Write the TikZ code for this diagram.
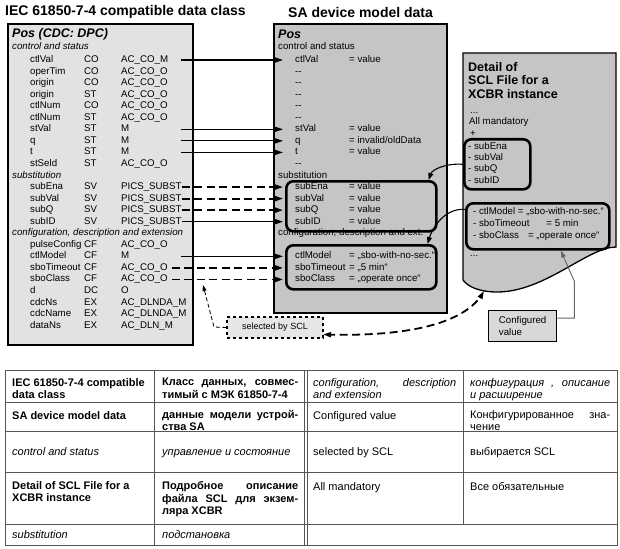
\documentclass[tikz,border=0pt]{standalone}
\usepackage{fontspec}
\setmainfont{Liberation Sans}
\usepackage{tikz}
\usetikzlibrary{
  arrows.meta,
  positioning
}
\definecolor{lboxgray}{RGB}{226,226,226}
\definecolor{mboxgray}{RGB}{197,197,197}
\definecolor{selgray}{RGB}{230,230,230}
\definecolor{cvgray}{RGB}{216,216,216}
\definecolor{cfggray}{RGB}{100,100,100}
\definecolor{tabgray}{RGB}{85,85,85}

\begin{document}
\begin{tikzpicture}[
  x=1pt, y=-1pt,
  panel/.style={draw, line width=1.6pt, anchor=north west, inner sep=0pt},
  grp/.style={draw, line width=2.6pt, rounded corners=7pt, anchor=north west, inner sep=0pt},
  rowtxt/.style={anchor=west, inner sep=0pt, text height=7pt, text depth=2pt, font=\fontsize{9.7}{11}\selectfont},
  sectxt/.style={rowtxt, font=\fontsize{9.7}{11}\selectfont\itshape},
  head/.style={anchor=west, inner sep=0pt, font=\fontsize{14}{16}\selectfont\bfseries},
  postitle/.style={anchor=west, inner sep=0pt, font=\fontsize{12.5}{14}\selectfont\bfseries\itshape},
  arr/.style={-{Triangle[length=8pt,width=5pt]}, line width=1.2pt, shorten >=12pt},
  darr/.style={arr, line width=1.8pt, dash pattern=on 8pt off 4.5pt},
  cell/.style={anchor=north west, inner sep=0pt, align=left, font=\fontsize{11}{12.5}\selectfont, execute at begin node=\rule{0pt}{9pt}},
  tabline/.style={draw=tabgray, line width=0.9pt}
]
  \useasboundingbox (0,0) rectangle (620,548);

  % --- titles ---
  \node[head] (ltitle) at (5,12) {IEC 61850-7-4 compatible data class};
  \node[head] (mtitle) at (288,12) {SA device model data};

  % --- data class (left) ---
  \node[panel, fill=lboxgray, minimum width=185pt, minimum height=321pt] (lbox) at (7,23) {};
  \node[postitle] (lpos) at (12,34) {Pos (CDC: DPC)};
  \node[sectxt] (lsec1) at (12,47) {control and status};
  \node[sectxt] (lsec2) at (12,{48.45+11.55*11}) {substitution};
  \node[sectxt] (lsec3) at (12,{48.45+11.55*16}) {configuration, description and extension};
  \foreach \i/\nm/\fc/\pr in {1/ctlVal/CO/AC\_CO\_M, 2/operTim/CO/AC\_CO\_O, 3/origin/CO/AC\_CO\_O,
      4/origin/ST/AC\_CO\_O, 5/ctlNum/CO/AC\_CO\_O, 6/ctlNum/ST/AC\_CO\_O, 7/stVal/ST/M, 8/q/ST/M,
      9/t/ST/M, 10/stSeld/ST/AC\_CO\_O, 12/subEna/SV/PICS\_SUBST, 13/subVal/SV/PICS\_SUBST,
      14/subQ/SV/PICS\_SUBST, 15/subID/SV/PICS\_SUBST, 17/pulseConfig/CF/AC\_CO\_O, 18/ctlModel/CF/M,
      19/sboTimeout/CF/AC\_CO\_O, 20/sboClass/CF/AC\_CO\_O, 21/d/DC/O, 22/cdcNs/EX/AC\_DLNDA\_M,
      23/cdcName/EX/AC\_DLNDA\_M, 24/dataNs/EX/AC\_DLN\_M} {
    \node[rowtxt] (ln\i) at (30,{48.45+11.55*\i}) {\nm};
    \node[rowtxt] (lf\i) at (84,{48.45+11.55*\i}) {\fc};
    \node[rowtxt] (lp\i) at (121,{48.45+11.55*\i}) {\pr};
  }

  % --- device model data (middle) ---
  \node[panel, fill=mboxgray, minimum width=173pt, minimum height=289pt] (mbox) at (273,23) {};
  \node[postitle] (mpos) at (278,34) {Pos};
  \node[rowtxt] (msec1) at (278,47) {control and status};
  \node[rowtxt] (msec2) at (278,{48.45+11.55*11}) {substitution};
  \node[rowtxt] (msec3) at (278,{48.45+11.55*16}) {configuration, description and ext.};
  \node[grp, minimum width=150pt, minimum height=50pt] (msub) at (285,180) {};
  \node[grp, minimum width=150pt, minimum height=44pt] (mcfg) at (285,244) {};
  \foreach \i/\nm in {1/ctlVal, 2/-{}-, 3/-{}-, 4/-{}-, 5/-{}-, 6/-{}-, 7/stVal, 8/q, 9/t, 10/-{}-,
      12/subEna, 13/subVal, 14/subQ, 15/subID, 18/ctlModel, 19/sboTimeout, 20/sboClass}
    \node[rowtxt] (mn\i) at (295,{48.45+11.55*\i}) {\nm};
  \foreach \i/\vl in {1/{= value}, 7/{= value}, 8/{= invalid/oldData}, 9/{= value}, 12/{= value},
      13/{= value}, 14/{= value}, 15/{= value}, 18/{= „sbo-with-no-sec.“}, 19/{= „5 min“},
      20/{= „operate once“}}
    \node[rowtxt] (mv\i) at (349,{48.45+11.55*\i}) {\vl};

  % mapping arrows
  \foreach \i in {1,7,8,9,18}
    \draw[arr] (181,0 |- lp\i) -- (mn\i);
  \draw[arr] (lp15.east) -- (mn15);
  \foreach \i in {12,13,14}
    \draw[darr] (lp\i.east) -- (mn\i);
  \foreach \i in {19,20}
    \draw[darr, shorten <=4pt] (lp\i.east) -- (mn\i);

  % --- SCL file detail (right) ---
  \draw[line width=1.3pt, fill=mboxgray] (463,53) -- (616,53) -- (616,247)
    .. controls (588,247) and (545,292) .. (497,292)
    .. controls (480,292) and (468,287) .. (463,280) -- cycle;
  \node[anchor=north west, inner sep=0pt, align=left, font=\fontsize{12.5}{13.5}\selectfont\bfseries] (rtitle) at (468,62) {Detail of\\SCL File for a\\XCBR instance};
  \node[rowtxt] (rdots1) at (470,111) {...};
  \node[rowtxt] (rall) at (469,122) {All mandatory};
  \node[rowtxt] (rplus) at (470,134) {+};
  \node[grp, minimum width=66pt, minimum height=50pt] (rsub) at (463,138) {};
  \node[rowtxt] (rs1) at (468,147) {- subEna};
  \node[rowtxt] (rs2) at (468,158) {- subVal};
  \node[rowtxt] (rs3) at (468,169) {- subQ};
  \node[rowtxt] (rs4) at (468,181) {- subID};
  \node[grp, minimum width=143pt, minimum height=46pt] (rcfg) at (465,202) {};
  \node[rowtxt] (rc1) at (473,212) {- ctlModel = „sbo-with-no-sec.“};
  \node[rowtxt] (rc2) at (473,224) {- sboTimeout\hspace{17pt}= 5 min};
  \node[rowtxt] (rc3) at (473,236) {- sboClass\hspace{9pt}= „operate once“};
  \node[rowtxt] (rdots2) at (470,254) {...};

  % SCL -> model
  \draw[-{Triangle[length=7pt,width=5pt]}, line width=1.1pt] (rsub.west)
    .. controls (445,163) and (432,170) .. ([xshift=-9pt]msub.north east);
  \draw[-{Triangle[length=7pt,width=5pt]}, line width=1.1pt] ([yshift=17pt]rcfg.west)
    .. controls (442,208) and (431,232) .. ([xshift=-10pt]mcfg.north east);

  % --- selected by SCL ---
  \node[draw, dashed, line width=1.2pt, fill=selgray, minimum width=96pt, minimum height=21pt, inner sep=0pt, font=\fontsize{9}{10}\selectfont] (sel) at (275,327.5) {selected by SCL};
  \coordinate (selbend) at (214,327);
  \coordinate (seltip) at (203,285);
  \draw[-{Triangle[length=6pt,width=4pt]}, line width=0.8pt, dash pattern=on 4pt off 2.5pt] (sel.west) -- (selbend) -- (seltip);
  % dashed curve as a fine polyline
  \draw[line width=1.8pt, dash pattern=on 8pt off 4.5pt, {Triangle[length=8pt,width=5pt]}-{Triangle[length=8pt,width=5pt]}]
    plot[samples=40, domain=0:1, variable=\t]
    ({(1-\t)^3*323 + 3*(1-\t)^2*\t*400 + 3*(1-\t)*\t^2*466 + \t^3*484},
     {(1-\t)^3*334.5 + 3*(1-\t)^2*\t*337 + 3*(1-\t)*\t^2*326 + \t^3*291});

  % --- configured value ---
  \node[draw, line width=1.3pt, fill=cvgray, minimum width=68pt, minimum height=31pt, anchor=north west, inner sep=0pt, align=left, font=\fontsize{9.7}{12}\selectfont] (cv) at (488,310) {Configured\\value};
  \draw[-{Triangle[length=7pt,width=4.5pt]}, draw=cfggray, line width=0.9pt] ([yshift=8pt]cv.east) -- ++(17,0) -- ++(0,-37) -- ([xshift=23pt]rcfg.south);

  % --- glossary table ---
  \draw[tabline] (5,370) rectangle (617,545);
  \foreach \yy in {402,431,472,524}
    \draw[tabline] (5,\yy) -- (617,\yy);
  \foreach \xx in {154,304,307}
    \draw[tabline] (\xx,370) -- (\xx,545);
  \draw[tabline] (463,370) -- (463,524);

  \node[cell, font=\fontsize{11}{12.5}\selectfont\bfseries] (c11) at (12,378) {IEC 61850-7-4 compatible\\data class};
  \node[cell, font=\fontsize{11}{12.5}\selectfont\bfseries] (c12) at (162,378) {\makebox[136pt][s]{Класс данных, совмес-}\\тимый с МЭК 61850-7-4};
  \node[cell, font=\fontsize{11}{12.5}\selectfont\itshape] (c13) at (313,378) {\makebox[143pt][s]{configuration, description}\\and extension};
  \node[cell, font=\fontsize{11}{12.5}\selectfont\itshape] (c14) at (470,378) {\makebox[140pt][s]{конфигурация , описание}\\и расширение};

  \node[cell, font=\fontsize{11}{12.5}\selectfont\bfseries] (c21) at (12,410) {SA device model data};
  \node[cell, font=\fontsize{11}{12.5}\selectfont\bfseries] (c22) at (162,410) {\makebox[136pt][s]{данные модели устрой-}\\ства SA};
  \node[cell] (c23) at (313,410) {Configured value};
  \node[cell] (c24) at (470,410) {\makebox[140pt][s]{Конфигурированное зна-}\\чение};

  \node[cell, font=\fontsize{11}{12.5}\selectfont\itshape] (c31) at (12,446) {control and status};
  \node[cell, font=\fontsize{11}{12.5}\selectfont\itshape] (c32) at (162,446) {управление и состояние};
  \node[cell] (c33) at (313,446) {selected by SCL};
  \node[cell] (c34) at (470,446) {выбирается SCL};

  \node[cell, font=\fontsize{11}{12.8}\selectfont\bfseries] (c41) at (12,481) {Detail of SCL File for a\\XCBR instance};
  \node[cell, font=\fontsize{11}{12.8}\selectfont\bfseries] (c42) at (162,481) {\makebox[136pt][s]{Подробное описание}\\\makebox[136pt][s]{файла SCL для экзем-}\\ляра XCBR};
  \node[cell] (c43) at (313,481) {All mandatory};
  \node[cell] (c44) at (470,481) {Все обязательные};

  \node[cell, font=\fontsize{11}{12.5}\selectfont\itshape] (c51) at (12,529) {substitution};
  \node[cell, font=\fontsize{11}{12.5}\selectfont\itshape] (c52) at (162,529) {подстановка};
\end{tikzpicture}
\end{document}
